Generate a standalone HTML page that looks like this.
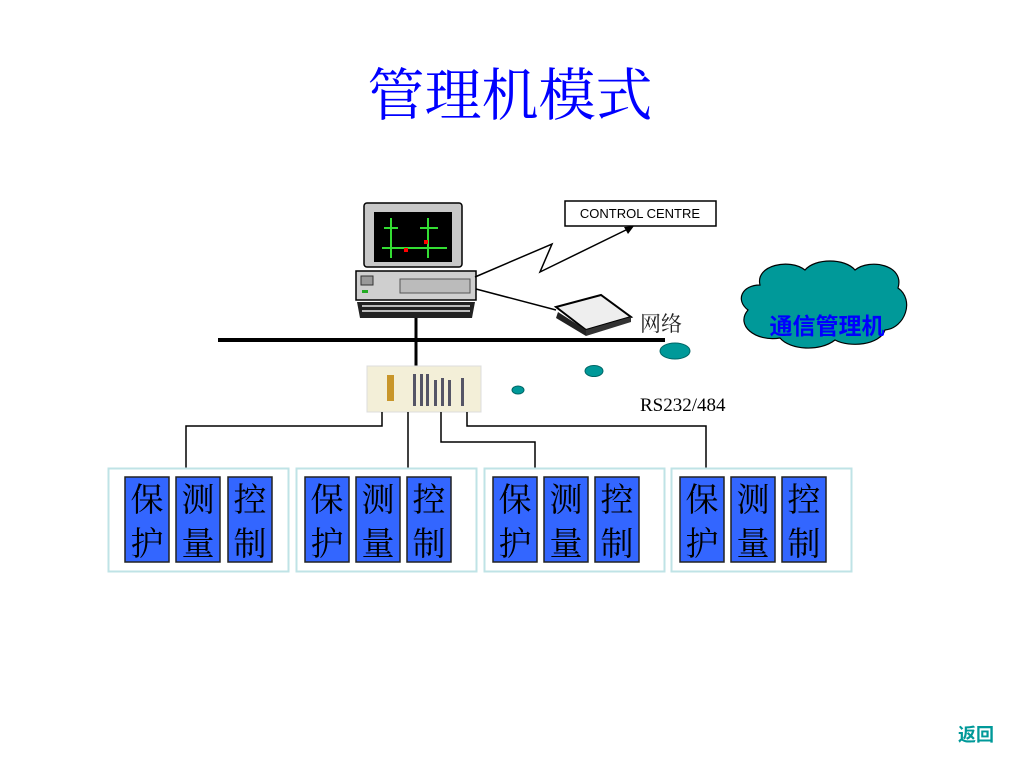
<!DOCTYPE html>
<html><head><meta charset="utf-8"><style>
html,body{margin:0;padding:0;background:#fff;width:1024px;height:768px;overflow:hidden}
svg{display:block}
</style></head><body>
<svg width="1024" height="768" viewBox="0 0 1024 768" xmlns="http://www.w3.org/2000/svg">
<text x="510" y="115" text-anchor="middle" font-family="Liberation Serif, Noto Serif CJK SC, serif" font-size="57" fill="#0000ff">管理机模式</text>

<!-- computer -->
<rect x="364" y="203" width="98" height="64" rx="3" fill="#c8c8c8" stroke="#000" stroke-width="1.5"/>
<rect x="374" y="212" width="78" height="50" fill="#000"/>
<g stroke="#33dd33" stroke-width="2" fill="none">
<path d="M391 218v40M428 218v40M382 248h65M384 228h14M420 228h18"/>
</g>
<rect x="404" y="248" width="4" height="4" fill="#f00"/><rect x="424" y="240" width="4" height="4" fill="#f00"/>
<rect x="356" y="271" width="120" height="29" fill="#cfcfcf" stroke="#000" stroke-width="1.5"/>
<rect x="400" y="279" width="70" height="14" fill="#bbb" stroke="#555"/>
<rect x="361" y="276" width="12" height="9" fill="#999" stroke="#333"/>
<rect x="362" y="290" width="6" height="3" fill="#2a2"/>
<path d="M357 302h118l-3 16h-112z" fill="#222"/>
<path d="M362 306h108M362 311h108" stroke="#eee" stroke-width="1.5"/>

<!-- control centre -->
<rect x="565" y="201" width="151" height="25" fill="#fff" stroke="#000" stroke-width="1.5"/>
<text x="640" y="218" text-anchor="middle" font-family="Liberation Sans, sans-serif" font-size="13">CONTROL CENTRE</text>
<polyline points="475,277 552,244 540,272 630,228" fill="none" stroke="#000" stroke-width="1.5"/>
<path d="M634 226l-10 1 4 7z" fill="#000"/>
<line x1="476" y1="289" x2="556" y2="310" stroke="#000" stroke-width="1.5"/>
<!-- printer -->
<path d="M556 307l45-12 30 22-45 13z" fill="#eee" stroke="#000" stroke-width="2"/>
<path d="M558 312l28 18 0 6-30-18z" fill="#222"/>
<path d="M586 330l45-13v5l-45 14z" fill="#333"/>

<text x="640" y="331" font-family="Liberation Serif, Noto Serif CJK SC, serif" font-size="21" fill="#222">网络</text>

<!-- cloud -->
<path d="M760 285 C755 265 790 258 805 270 C815 258 845 258 855 270 C870 258 905 265 898 288 C915 300 905 328 885 330 C880 345 850 348 835 340 C820 352 790 350 780 338 C755 342 735 325 748 310 C735 300 742 285 760 285 Z" fill="#009999" stroke="#000" stroke-width="1.2"/>
<text x="827" y="334" text-anchor="middle" font-family="Liberation Sans, Noto Sans CJK SC, sans-serif" font-weight="bold" font-size="23" fill="#0000ff">通信管理机</text>

<!-- network line -->
<line x1="218" y1="340" x2="665" y2="340" stroke="#000" stroke-width="4"/>
<line x1="416" y1="318" x2="416" y2="366" stroke="#000" stroke-width="3"/>
<ellipse cx="675" cy="351" rx="15" ry="8" fill="#009999" stroke="#066"/>
<ellipse cx="594" cy="371" rx="9" ry="5.5" fill="#009999" stroke="#066"/>
<ellipse cx="518" cy="390" rx="6" ry="4" fill="#009999" stroke="#066"/>
<text x="640" y="411" font-family="Liberation Serif, serif" font-size="19" fill="#000">RS232/484</text>

<!-- rack -->
<rect x="367" y="366" width="114" height="46" fill="#f3efd8" stroke="#ddd"/>
<rect x="387" y="375" width="7" height="26" fill="#c8962a"/>
<g fill="#556">
<rect x="413" y="374" width="3" height="32"/><rect x="420" y="374" width="3" height="32"/><rect x="426" y="374" width="3" height="32"/>
<rect x="434" y="380" width="3" height="26"/><rect x="441" y="378" width="3" height="28"/><rect x="448" y="380" width="3" height="26"/><rect x="461" y="378" width="3" height="28"/>
</g>

<!-- connectors -->
<g fill="none" stroke="#000" stroke-width="1.5">
<polyline points="382,412 382,426 186,426 186,468"/>
<polyline points="408,412 408,468"/>
<polyline points="441,412 441,442 535,442 535,468"/>
<polyline points="467,412 467,426 706,426 706,468"/>
</g>

<!-- groups -->
<g font-family="Liberation Serif, Noto Serif CJK SC, serif" font-size="33" fill="#000" text-anchor="middle">
<g transform="translate(108,0)">
<rect x="0.5" y="468.5" width="180" height="103" fill="#fff" stroke="#bfe3e6" stroke-width="2"/>
<rect x="17" y="477" width="44" height="85" fill="#3366ff" stroke="#222" stroke-width="1.5"/>
<rect x="68" y="477" width="44" height="85" fill="#3366ff" stroke="#222" stroke-width="1.5"/>
<rect x="120" y="477" width="44" height="85" fill="#3366ff" stroke="#222" stroke-width="1.5"/>
<text x="39" y="511">保</text><text x="39" y="555">护</text>
<text x="90" y="511">测</text><text x="90" y="555">量</text>
<text x="142" y="511">控</text><text x="142" y="555">制</text>
</g>
<g transform="translate(296,0)">
<rect x="0.5" y="468.5" width="180" height="103" fill="#fff" stroke="#bfe3e6" stroke-width="2"/>
<rect x="9" y="477" width="44" height="85" fill="#3366ff" stroke="#222" stroke-width="1.5"/>
<rect x="60" y="477" width="44" height="85" fill="#3366ff" stroke="#222" stroke-width="1.5"/>
<rect x="111" y="477" width="44" height="85" fill="#3366ff" stroke="#222" stroke-width="1.5"/>
<text x="31" y="511">保</text><text x="31" y="555">护</text>
<text x="82" y="511">测</text><text x="82" y="555">量</text>
<text x="133" y="511">控</text><text x="133" y="555">制</text>
</g>
<g transform="translate(484,0)">
<rect x="0.5" y="468.5" width="180" height="103" fill="#fff" stroke="#bfe3e6" stroke-width="2"/>
<rect x="9" y="477" width="44" height="85" fill="#3366ff" stroke="#222" stroke-width="1.5"/>
<rect x="60" y="477" width="44" height="85" fill="#3366ff" stroke="#222" stroke-width="1.5"/>
<rect x="111" y="477" width="44" height="85" fill="#3366ff" stroke="#222" stroke-width="1.5"/>
<text x="31" y="511">保</text><text x="31" y="555">护</text>
<text x="82" y="511">测</text><text x="82" y="555">量</text>
<text x="133" y="511">控</text><text x="133" y="555">制</text>
</g>
<g transform="translate(671,0)">
<rect x="0.5" y="468.5" width="180" height="103" fill="#fff" stroke="#bfe3e6" stroke-width="2"/>
<rect x="9" y="477" width="44" height="85" fill="#3366ff" stroke="#222" stroke-width="1.5"/>
<rect x="60" y="477" width="44" height="85" fill="#3366ff" stroke="#222" stroke-width="1.5"/>
<rect x="111" y="477" width="44" height="85" fill="#3366ff" stroke="#222" stroke-width="1.5"/>
<text x="31" y="511">保</text><text x="31" y="555">护</text>
<text x="82" y="511">测</text><text x="82" y="555">量</text>
<text x="133" y="511">控</text><text x="133" y="555">制</text>
</g>
</g>

<text x="976" y="741" text-anchor="middle" font-family="Liberation Sans, Noto Sans CJK SC, sans-serif" font-weight="bold" font-size="18" fill="#009999">返回</text>
</svg>
</body></html>
